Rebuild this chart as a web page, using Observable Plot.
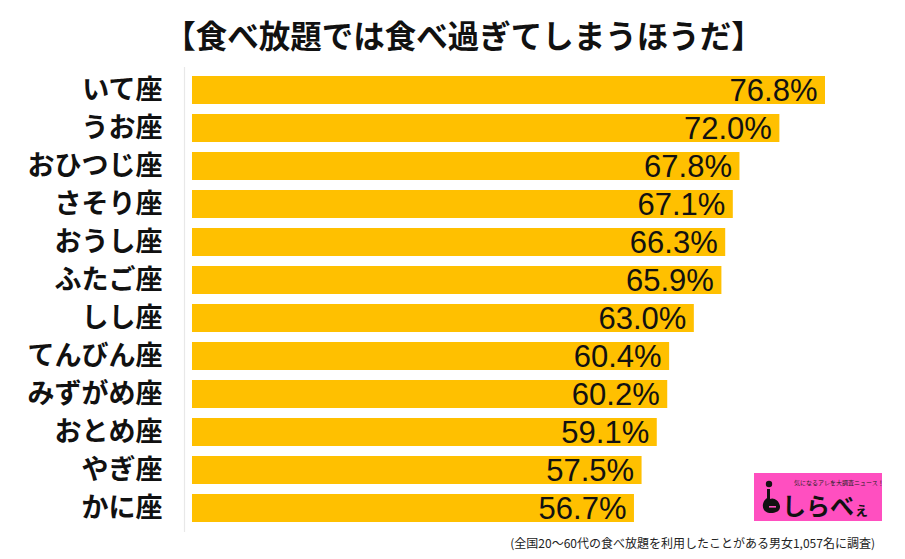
<!DOCTYPE html>
<html>
<head>
<meta charset="utf-8">
<script src="https://cdn.jsdelivr.net/npm/d3@7"></script>
<script src="https://cdn.jsdelivr.net/npm/@observablehq/plot@0.6"></script>
<style>
  html, body { margin: 0; padding: 0; background: #fff; }
  #wrap { position: relative; width: 905px; height: 559px; overflow: hidden; }
  #title { position: absolute; left: 0; top: 15px; width: 905px; padding-left: 22px; box-sizing: border-box; text-align: center;
    font-family: "Noto Sans CJK JP", sans-serif; font-weight: 700; font-size: 31.5px; line-height: 38px; color: #111; white-space: nowrap; }
  #caption { position: absolute; right: 30px; top: 535px; font-family: "Noto Sans CJK JP", sans-serif; font-size: 12px; line-height: 16px; color: #222; white-space: nowrap; }
  #logo { position: absolute; left: 754px; top: 473px; width: 128px; height: 48px; background: #ff4fc0; }
  #logo .small { position: absolute; left: 40px; top: 7px; font-family: "Noto Sans CJK JP", sans-serif; font-size: 6px; line-height: 6px; height: 6px; color: #222; white-space: nowrap; }
  #logo .big { position: absolute; left: 28px; top: 20px; font-family: "Noto Sans CJK JP", sans-serif; font-weight: 700; font-size: 24px; line-height: 24px; height: 24px; color: #111; white-space: nowrap; }
  #logo .big span { font-size: 15px; }
  #logo svg.icon { position: absolute; left: 7px; top: 7px; }
  #chart svg { display: block; }
</style>
</head>
<body>
<div id="wrap">
  <div id="chart"></div>
  <div id="title">【食べ放題では食べ過ぎてしまうほうだ】</div>
  <div id="logo">
    <svg class="icon" width="22" height="34" viewBox="0 0 22 34">
      <circle cx="8" cy="4" r="3.2" fill="#111"/>
      <path d="M6 9 L9 9 L9 19 C12 17 18 20 19 26 C19.5 31 15 33 10 33 C4 33 1 29 2 24 C3 20 5 19 6 18 Z" fill="#111"/>
      <rect x="8" y="26" width="7" height="1.6" fill="#ff4fc0"/>
    </svg>
    <div class="small">気になるアレを大調査ニュース！</div>
    <div class="big">しらべ<span>ぇ</span></div>
  </div>
  <div id="caption">(全国20〜60代の食べ放題を利用したことがある男女1,057名に調査)</div>
</div>
<script>
const signs = ["いて座","うお座","おひつじ座","さそり座","おうし座","ふたご座","しし座","てんびん座","みずがめ座","おとめ座","やぎ座","かに座"];
const values = [76.8, 72.0, 67.8, 67.1, 66.3, 65.9, 63.0, 60.4, 60.2, 59.1, 57.5, 56.7];
const valueLabels = ["76.8%","72.0%","67.8%","67.1%","66.3%","65.9%","63.0%","60.4%","60.2%","59.1%","57.5%","56.7%"];
const axisMin = 10.2;
const axisMax = 76.8;

const data = signs.map((s, i) => ({sign: s, value: values[i], label: valueLabels[i]}));

const chart = Plot.plot({
  width: 905,
  height: 559,
  marginLeft: 192,
  marginRight: 80,
  marginTop: 67,
  marginBottom: 27,
  style: {background: "transparent", color: "#111"},
  x: {domain: [axisMin, axisMax], axis: null},
  y: {domain: signs, paddingInner: 0.26, paddingOuter: 0.13, axis: null},
  marks: [
    Plot.ruleX([axisMin], {stroke: "#e8e8e8", strokeWidth: 1.2, dx: -8}),
    Plot.barX(data, {x1: () => axisMin, x2: "value", y: "sign", fill: "#FFC000"}),
    Plot.text(data, {x: "value", y: "sign", text: "label", textAnchor: "end", dx: -8, dy: 1,
      fontSize: 31, fill: "#111", fontFamily: "'Liberation Sans', Arial, sans-serif"}),
    Plot.axisY({tickSize: 0, tickPadding: 30, fontSize: 27, fontWeight: 700, label: null,
      fontFamily: "'Noto Sans CJK JP', sans-serif", fill: "#111"})
  ]
});
document.getElementById("chart").appendChild(chart);
</script>
</body>
</html>
